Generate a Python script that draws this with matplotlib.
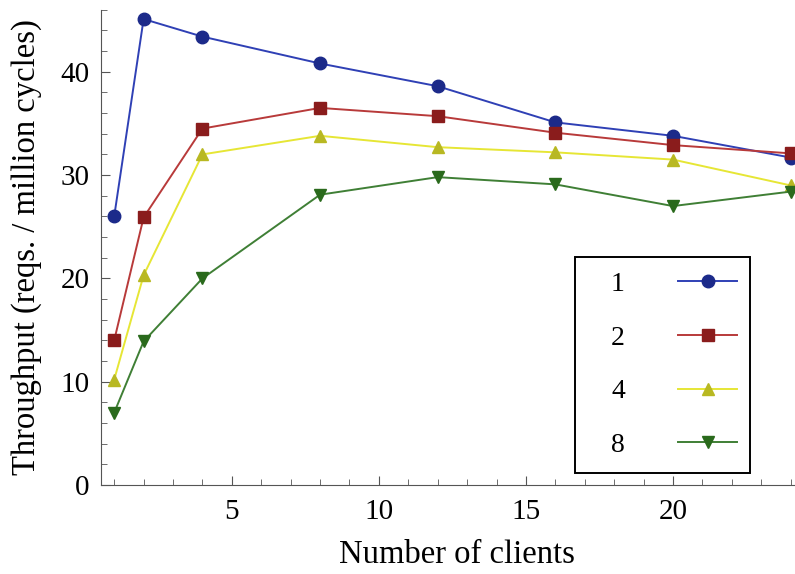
import matplotlib.pyplot as plt
from matplotlib.patches import Rectangle
from matplotlib.ticker import MultipleLocator

plt.rcParams['font.family'] = ['Liberation Serif', 'DejaVu Serif']

clients = [1, 2, 4, 8, 12, 16, 20, 24]
thr_1 = [26.0, 45.1, 43.4, 40.8, 38.6, 35.1, 33.8, 31.7]
thr_2 = [14.0, 25.9, 34.5, 36.5, 35.7, 34.1, 32.9, 32.1]
thr_4 = [10.2, 20.3, 32.0, 33.8, 32.7, 32.2, 31.5, 29.0]
thr_8 = [7.0, 13.9, 20.0, 28.1, 29.8, 29.1, 27.0, 28.4]
labels = ['1', '2', '4', '8']

fig = plt.figure(figsize=(7.95, 5.74), dpi=100)
ax = fig.add_axes([0.127, 0.155, 0.873, 0.828])

ax.plot(clients, thr_1, color='#2f40b5', marker='o', ms=9, mfc='#1c2a8a', mec='#1c2a8a', lw=1.4, label=labels[0])
ax.plot(clients, thr_2, color='#b83a3a', marker='s', ms=9, mfc='#8a1c1c', mec='#8a1c1c', lw=1.4, label=labels[1])
ax.plot(clients, thr_4, color='#e6e635', marker='^', ms=9, mfc='#b8b822', mec='#b8b822', lw=1.4, label=labels[2])
ax.plot(clients, thr_8, color='#3f7f35', marker='v', ms=9, mfc='#2a6a1c', mec='#2a6a1c', lw=1.4, label=labels[3])

ax.set_xlim(0.55, 24.15)
ax.set_ylim(0, 46)
ax.xaxis.set_major_locator(MultipleLocator(5))
ax.xaxis.set_minor_locator(MultipleLocator(1))
ax.yaxis.set_major_locator(MultipleLocator(10))
ax.yaxis.set_minor_locator(MultipleLocator(2))
ax.tick_params(which='both', direction='in', color='#555555', labelsize=21)
ax.tick_params(which='major', length=6.5)
ax.tick_params(which='minor', length=4.5)
ax.tick_params(axis='x', pad=10)
ax.tick_params(axis='y', pad=8)
for s in ['top', 'right']:
    ax.spines[s].set_visible(False)
for s in ['left', 'bottom']:
    ax.spines[s].set_color('#555555')

ax.set_xlabel('Number of clients', fontsize=23.5)
ax.set_ylabel('Throughput (reqs. / million cycles)', fontsize=23.5)
ax.xaxis.set_label_coords(0.513, -0.115)
ax.yaxis.set_label_coords(-0.085, 0.5)

# legend box drawn by hand so the labels sit well inside it
ax.add_patch(Rectangle((0.683, 0.025), 0.252, 0.455, transform=ax.transAxes,
                       fill=True, facecolor='white', edgecolor='black', lw=1.4, zorder=5))
leg = ax.legend(loc='center', bbox_to_anchor=(0.826, 0.253), markerfirst=False, frameon=False,
                fontsize=20, handlelength=2.15, labelspacing=1.02, handletextpad=1.9, borderpad=0)
leg.set_zorder(6)

fig.savefig('out.png')
